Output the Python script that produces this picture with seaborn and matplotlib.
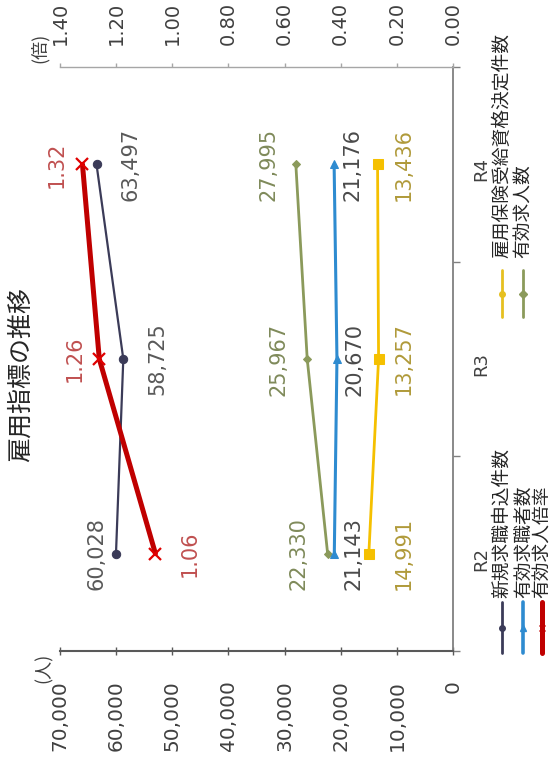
import numpy as np
import pandas as pd
import matplotlib
matplotlib.use("Agg")
import matplotlib.pyplot as plt
import seaborn as sns
from matplotlib.lines import Line2D
from matplotlib.ticker import FuncFormatter

# ---------------- data ----------------
categories = ["R2", "R3", "R4"]
new_applications = [60028, 58725, 63497]        # 新規求職申込件数
active_seekers = [21143, 20670, 21176]          # 有効求職者数
job_ratio = [1.06, 1.26, 1.32]                  # 有効求人倍率
insurance_decisions = [14991, 13257, 13436]     # 雇用保険受給資格決定件数
active_openings = [22330, 25967, 27995]         # 有効求人数

people_ticks = [0, 10000, 20000, 30000, 40000, 50000, 60000, 70000]
ratio_ticks = [0.0, 0.2, 0.4, 0.6, 0.8, 1.0, 1.2, 1.4]

title = "雇用指標の推移"
name_new = "新規求職申込件数"
name_seekers = "有効求職者数"
name_ratio = "有効求人倍率"
name_insurance = "雇用保険受給資格決定件数"
name_openings = "有効求人数"

# ---------------- style ----------------
sns.set_theme(style="white")
plt.rcParams["font.family"] = ["DejaVu Sans", "Noto Sans CJK JP"]
JP = ["Noto Sans CJK JP", "DejaVu Sans"]

W, H = 554, 759
fig = plt.figure(figsize=(W / 100, H / 100), dpi=100)
fig.patch.set_facecolor("white")

L, R, T, B = 60, 453, 67, 651
ax = fig.add_axes([L / W, 1 - B / H, (R - L) / W, (B - T) / H])
ax2 = ax.twiny()

pos = np.arange(len(categories))

people_series = [
    # values, color, lw, marker, msize, label color, offsets (pt)
    (new_applications, "#3b3b58", 1.6, "o", 6, "#595959", [-14, 24.5, 24.5]),
    (active_openings, "#8b9a5b", 2.0, "D", 4.5, "#7f8a5a", [-21, -21, -20]),
    (active_seekers, "#2e8bd0", 2.2, "^", 6, "#4a4a4a", [14, 12.5, 13]),
    (insurance_decisions, "#f5c000", 2.0, "s", 6.5, "#b09a3a", [25, 18, 18.7]),
]

for vals, col, lw, mk, ms, lcol, offs in people_series:
    sns.lineplot(x=vals, y=pos, orient="y", sort=False, estimator=None, ax=ax,
                 color=col, lw=lw, marker=mk, markersize=ms,
                 markeredgecolor=col, markerfacecolor=col, legend=False)
    for v, p, o in zip(vals, pos, offs):
        ax.annotate(f"{v:,}", (v, p), xytext=(o, 0), textcoords="offset points",
                    rotation=90, ha="center", va="center", fontsize=15,
                    color=lcol)

sns.lineplot(x=job_ratio, y=pos, orient="y", sort=False, estimator=None, ax=ax2,
             color="#c00000", lw=3.6, marker="x", markersize=8, mew=1.6,
             markeredgecolor="#e00000", legend=False)
for v, p, o in zip(job_ratio, pos, [24.5, -18, -18.7]):
    ax2.annotate(f"{v:.2f}", (v, p), xytext=(o, 0), textcoords="offset points",
                 rotation=90, ha="center", va="center", fontsize=15,
                 color="#c05050")

# ---------------- axes ----------------
ax.set_xlim(70000, 0)
ax.set_xticks(people_ticks)
ax.xaxis.set_major_formatter(FuncFormatter(lambda x, _: f"{int(x):,}"))
ax.tick_params(axis="x", which="major", rotation=90, labelsize=14.5,
               labelcolor="#404040", direction="inout", length=6, width=1,
               color="#595959", pad=18, bottom=True)

ax2.set_xlim(1.40, 0)
ax2.set_xticks(ratio_ticks)
ax2.xaxis.set_major_formatter(FuncFormatter(lambda x, _: f"{x:.2f}"))
ax2.tick_params(axis="x", which="major", rotation=90, labelsize=14,
                labelcolor="#404040", direction="out", length=3, width=1,
                color="#a6a6a6", pad=13, top=True)

ax.set_ylim(-0.5, len(categories) - 0.5)
ax2.set_ylim(-0.5, len(categories) - 0.5)
ax.yaxis.tick_right()
ax.set_yticks(pos)
ax.set_yticklabels(categories, rotation=90, fontsize=13, color="#404040")
ax.set_yticks(np.arange(-0.5, len(categories), 1.0), minor=True)
ax.tick_params(axis="y", which="major", length=0, pad=14, right=True, left=False)
ax.tick_params(axis="y", which="minor", length=5, width=1, color="#808080",
               direction="out", right=True, left=False)

ax.set_xlabel("")
ax.set_ylabel("")
ax2.set_xlabel("")
ax2.set_ylabel("")

for s in ["left", "top"]:
    ax.spines[s].set_visible(False)
ax.spines["bottom"].set_color("#595959")
ax.spines["bottom"].set_linewidth(1.5)
ax.spines["right"].set_color("#808080")
ax.spines["right"].set_linewidth(1.3)
for s in ["left", "right", "bottom"]:
    ax2.spines[s].set_visible(False)
ax2.spines["top"].set_color("#a6a6a6")
ax2.spines["top"].set_linewidth(1.0)
ax.grid(False)
ax2.grid(False)

# ---------------- titles / unit labels ----------------
fig.text(21 / W, 1 - 375 / H, title, rotation=90, ha="center", va="center",
         fontsize=18, color="#262626", family=JP)
fig.text(44 / W, 1 - 668 / H, "(人)", rotation=90, ha="center", va="center",
         fontsize=13, color="#404040", family=JP)
fig.text(40 / W, 1 - 48 / H, "(倍)", rotation=90, ha="center", va="center",
         fontsize=13, color="#404040", family=JP)

# ---------------- legend (rotated) ----------------
legend_items = [
    # name, color, lw, marker, x, y_line_top, y_line_bottom, y_text_start
    (name_new, "#3b3b58", 2.0, "o", 502, 602, 653, 598),
    (name_seekers, "#2e8bd0", 2.6, "^", 523, 602, 653, 598),
    (name_ratio, "#c00000", 3.6, "x", 542, 602, 653, 598),
    (name_insurance, "#e6c020", 2.0, "o", 502, 270, 317, 258),
    (name_openings, "#8b9a5b", 2.0, "D", 523, 270, 317, 258),
]
for name, col, lw, mk, x, y0, y1, yt in legend_items:
    fig.add_artist(Line2D([x / W, x / W], [1 - y0 / H, 1 - y1 / H],
                          transform=fig.transFigure, color=col, lw=lw))
    fig.add_artist(Line2D([x / W], [1 - (y0 + y1) / 2 / H],
                          transform=fig.transFigure, color=col, marker=mk,
                          markersize=4, lw=0))
    fig.text(x / W, 1 - yt / H, name, rotation=90, ha="center", va="bottom",
             fontsize=13.5, color="#262626", family=JP)

fig.savefig("out.png", dpi=100, facecolor="white")
